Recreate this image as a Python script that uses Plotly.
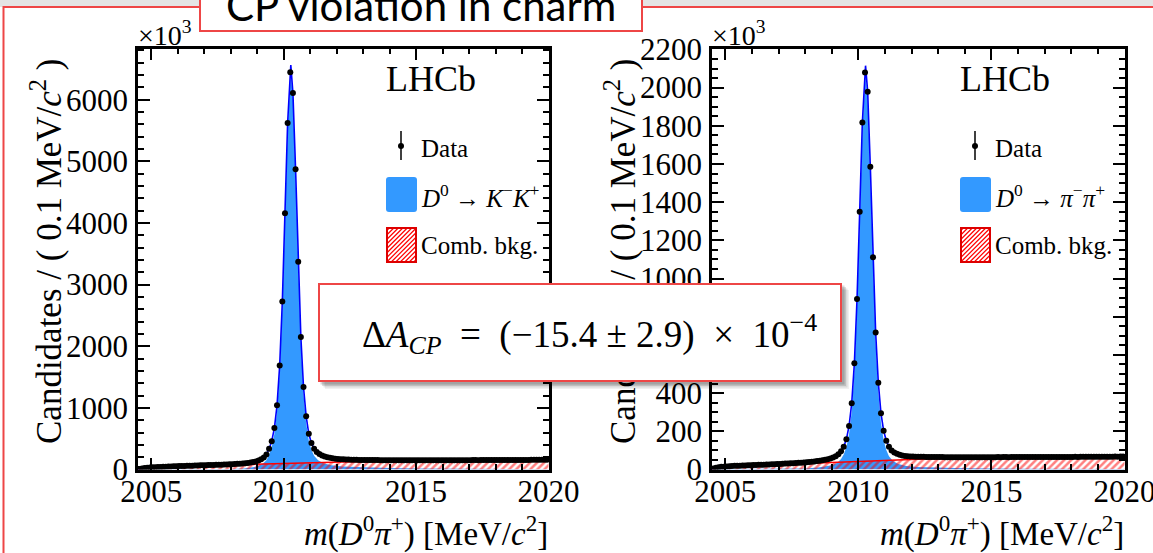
import numpy as np
import plotly.graph_objects as go

W, H = 1153, 553

# ---------------- data (in units of 10^3 candidates) ----------------
bin_centres = np.round(2004.55 + 0.1 * np.arange(155), 2)   # 0.1 MeV/c^2 bins

kk_counts = [10, 18, 24, 28, 32, 35, 38, 40, 42, 44,
             46, 48, 50, 52, 53, 55, 56, 58, 59, 61,
             62, 64, 65, 67, 68, 70, 71, 73, 74, 76,
             78, 79, 81, 83, 85, 87, 89, 92, 95, 98,
             102, 107, 113, 121, 131, 146, 166, 195, 245, 337,
             460, 672, 1041, 1686, 2727, 4158, 5621, 6444, 6109, 4873,
             3371, 2151, 1338, 862, 580, 428, 337, 285, 250, 226,
             210, 198, 189, 182, 176, 172, 168, 165, 163, 161,
             159, 158, 157, 156, 155,
             155, 154, 154, 153, 153, 153, 152, 152, 152, 152,
             151, 151, 151, 151, 150, 150, 151, 150, 150, 150,
             150, 150, 150, 151, 150, 150, 150, 151, 151, 150,
             151, 151, 151, 151, 152, 151, 152, 152, 152, 152,
             152, 153, 153, 152, 153, 153, 153, 154, 153, 154,
             154, 154, 154, 155, 155, 155, 155, 156, 155, 156,
             156, 156, 156, 157, 157, 157, 157, 158, 158, 158]

pipi_counts = [5, 9, 12, 14, 15, 16, 17, 18, 19, 19.5,
               20, 21, 21.5, 22, 22.5, 23, 24, 24.5, 25, 25.5,
               26, 26.5, 27, 28, 28.5, 29, 30, 31, 32, 32.5,
               33, 34, 35, 36, 37, 38, 39, 41, 42, 44,
               46, 48, 51, 54, 58, 63, 70, 80, 95, 119,
               158, 228, 347, 556, 893, 1350, 1817, 2079, 1979, 1586,
               1112, 717, 455, 294, 203, 151, 119, 100, 89, 82,
               77, 73, 71, 69, 68,
               67.5, 67, 67, 66.5, 66.5, 66, 66, 65.5, 65.5, 65,
               65, 65, 64.5, 64.5, 64.5, 64.5, 64.5, 64, 64.5, 64.5,
               64.5, 64, 64.5, 64.5, 64.5, 64, 64.5, 64.5, 64.5, 64.5,
               64.5, 64.5, 65, 64.5, 65, 65, 64.5, 65, 65, 65,
               65, 65, 65, 65.5, 65, 65.5, 65.5, 65.5, 65.5, 65.5,
               65.5, 65.5, 66, 65.5, 66, 66, 66, 66, 66, 66,
               66, 66.5, 66, 66.5, 66.5, 66.5, 66.5, 66.5, 66.5, 67,
               66.5, 67, 67, 67, 67, 67, 67.5, 67, 67.5, 67.5]

# fit components
fit_mass = [2004.45, 2004.6, 2005.0, 2005.5, 2006.0, 2006.5, 2007.0, 2007.5, 2008.0, 2008.5,
            2008.8, 2009.0, 2009.2, 2009.35, 2009.45, 2009.55, 2009.65, 2009.75, 2009.85, 2009.95,
            2010.05, 2010.15, 2010.27, 2010.35, 2010.45, 2010.55, 2010.65, 2010.75, 2010.85, 2010.95,
            2011.05, 2011.15, 2011.3, 2011.5, 2011.8, 2012.2, 2013.0, 2014.0, 2015.0, 2016.0,
            2017.0, 2018.0, 2019.0, 2020.0]

kk_signal = [0, 3, 4, 3, 3, 3, 5, 7, 10, 18,
             31, 49, 88, 151, 241, 363, 574, 942, 1586, 2626,
             4056, 5518, 6456, 6004, 4767, 3264, 2043, 1230, 753, 470,
             317, 225, 149, 103, 68, 47, 32, 23, 17, 13,
             10, 8, 7, 6]
kk_comb = [0, 15, 30, 42, 51, 58, 64, 70, 76, 82,
           86, 89, 92, 94, 96, 97, 98, 99, 100, 101,
           102, 103, 104, 105, 106, 107, 108, 108, 109, 110,
           111, 112, 113, 115, 118, 121, 126, 131, 135, 139,
           142, 145, 147, 150]

pipi_signal = [0, 2, 3, 3, 3, 3, 3, 4, 5.5, 10,
               15, 22, 34.5, 54.5, 78, 116, 185.5, 304, 512.5, 849,
               1305.5, 1772, 2069.5, 1933, 1539.5, 1065, 669.5, 407, 245.5, 154,
               101.5, 69, 44.5, 28.5, 18.5, 13, 9, 6.5, 5, 4,
               3.5, 3, 2.5, 2]
pipi_comb = [0, 6, 12, 17, 20, 23, 26, 29, 32, 35,
             37, 38, 39.5, 40.5, 41, 42, 42.5, 43, 43.5, 44,
             44.5, 45, 45.5, 46, 46.5, 47, 47.5, 48, 48.5, 49,
             49.5, 50, 50.5, 51.5, 52.5, 54, 56, 58, 59.5, 61,
             62, 63, 64, 65]

x_tickvals = [2005, 2010, 2015, 2020]
kk_yticks = [0, 1000, 2000, 3000, 4000, 5000, 6000]
pipi_yticks = [0, 200, 400, 600, 800, 1000, 1200, 1400, 1600, 1800, 2000, 2200]

# ---------------- styling ----------------
SERIF = "Liberation Serif"
RED = "#ee4646"
BLUE_FILL = "#3399ff"
BLUE_LINE = "#0000ff"


def px(x):
    return x / W


def py(y):
    return 1 - y / H


fig = go.Figure()

panels = [
    dict(xa="x", ya="y", data=kk_counts, sig=kk_signal, bkg=kk_comb),
    dict(xa="x2", ya="y2", data=pipi_counts, sig=pipi_signal, bkg=pipi_comb),
]
for p in panels:
    total = [s + b for s, b in zip(p["sig"], p["bkg"])]
    fig.add_trace(go.Scatter(x=fit_mass, y=p["sig"], xaxis=p["xa"], yaxis=p["ya"], mode="lines",
                             line=dict(width=0, color=BLUE_FILL), fill="tozeroy",
                             fillcolor=BLUE_FILL, hoverinfo="skip", showlegend=False))
    fig.add_trace(go.Scatter(x=fit_mass, y=p["bkg"], xaxis=p["xa"], yaxis=p["ya"], mode="lines",
                             line=dict(width=1.5, color="red"), fill="tozeroy",
                             fillcolor="rgba(0,0,0,0)",
                             fillpattern=dict(shape="/", fgcolor="red", bgcolor="rgba(0,0,0,0)",
                                              size=5, solidity=0.5),
                             hoverinfo="skip", showlegend=False))
    fig.add_trace(go.Scatter(x=fit_mass, y=total, xaxis=p["xa"], yaxis=p["ya"], mode="lines",
                             line=dict(width=1.6, color=BLUE_LINE), showlegend=False))
    fig.add_trace(go.Scatter(x=bin_centres, y=p["data"], xaxis=p["xa"], yaxis=p["ya"], mode="markers",
                             marker=dict(size=6, color="black"), showlegend=False))

axis_common = dict(showline=True, linecolor="black", linewidth=2.5, mirror="allticks",
                   ticks="inside", ticklen=12, tickwidth=1.5, tickcolor="black",
                   showgrid=False, zeroline=False, automargin=False, ticklabeloverflow="allow",
                   tickfont=dict(family=SERIF, size=31, color="black"))
xdom1 = [px(138), px(549)]
xdom2 = [px(712), px(1125)]
ydom = [py(469.5), py(48.5)]

fig.update_layout(
    xaxis=dict(domain=xdom1, anchor="y", range=[2004.5, 2020.02], tickvals=x_tickvals,
               minor=dict(dtick=1, tick0=2005, ticks="inside", ticklen=6, tickwidth=1.5, tickcolor="black"),
               ticklabelstandoff=-7, **axis_common),
    yaxis=dict(domain=ydom, anchor="x", range=[0, 6830], tickvals=kk_yticks,
               minor=dict(dtick=200, tick0=0, ticks="inside", ticklen=6, tickwidth=1.5, tickcolor="black"),
               ticklabelstandoff=1, **axis_common),
    xaxis2=dict(domain=xdom2, anchor="y2", range=[2004.5, 2020.02], tickvals=x_tickvals,
                minor=dict(dtick=1, tick0=2005, ticks="inside", ticklen=6, tickwidth=1.5, tickcolor="black"),
                ticklabelstandoff=-7, **axis_common),
    yaxis2=dict(domain=ydom, anchor="x2", range=[0, 2205], tickvals=pipi_yticks,
                minor=dict(dtick=50, tick0=0, ticks="inside", ticklen=6, tickwidth=1.5, tickcolor="black"),
                ticklabelstandoff=1, **axis_common),
)

shapes = []
annotations = []

# slide background
shapes.append(dict(type="rect", xref="paper", yref="paper", x0=0, x1=1, y0=py(7), y1=1.01,
                   fillcolor="#e4e4e4", line=dict(width=0), layer="below"))
shapes.append(dict(type="rect", xref="paper", yref="paper", x0=px(3.5), x1=px(1170), y0=py(570), y1=py(7),
                   fillcolor="rgba(0,0,0,0)", line=dict(color=RED, width=2), layer="below"))
# title box
shapes.append(dict(type="rect", xref="paper", yref="paper", x0=px(200), x1=px(642), y0=py(31), y1=py(-20),
                   fillcolor="white", line=dict(color=RED, width=2), layer="above"))
annotations.append(dict(xref="paper", yref="paper", x=px(421), y=py(5), xanchor="center", yanchor="middle",
                        text="CP violation in charm", showarrow=False,
                        font=dict(family="Lato", size=42, color="black")))


def rrect_path(x0, y0, x1, y1, r):
    pts = [("M", x0 + r, y0), ("L", x1 - r, y0), ("Q", x1, y0, x1, y0 + r), ("L", x1, y1 - r),
           ("Q", x1, y1, x1 - r, y1), ("L", x0 + r, y1), ("Q", x0, y1, x0, y1 - r), ("L", x0, y0 + r),
           ("Q", x0, y0, x0 + r, y0)]
    s = ""
    for p in pts:
        cmd = p[0]
        coords = p[1:]
        s += cmd + " ".join(
            f"{px(coords[i]):.5f},{py(coords[i + 1]):.5f}" for i in range(0, len(coords), 2)) + " "
    return s + "Z"


def hatch_path(x0, y0, x1, y1, step):
    w, h = x1 - x0, y1 - y0
    segs = []
    c = -h + step / 2
    while c < w:
        t0 = max(0.0, -c)
        t1 = min(h, w - c)
        if t1 > t0:
            xa, ya = x0 + c + t0, y1 - t0
            xb, yb = x0 + c + t1, y1 - t1
            segs.append(f"M{px(xa):.5f},{py(ya):.5f} L{px(xb):.5f},{py(yb):.5f}")
        c += step
    return " ".join(segs)


panel_info = [
    dict(dx=0, frame_l=138, frame_r=549, mode_txt="<i>D</i><sup>0</sup> → <i>K</i><sup>−</sup><i>K</i><sup>+</sup>"),
    dict(dx=574, frame_l=712, frame_r=1125, mode_txt="<i>D</i><sup>0</sup> → <i>π</i><sup>−</sup><i>π</i><sup>+</sup>"),
]

for pi in panel_info:
    dx = pi["dx"]
    # axis titles
    annotations.append(dict(xref="paper", yref="paper", x=px(47 + dx), y=py(251), xanchor="center",
                            yanchor="middle", textangle=-90, showarrow=False,
                            text="Candidates / ( 0.1 MeV/<i>c</i><sup>2</sup> )",
                            font=dict(family=SERIF, size=35, color="black")))
    annotations.append(dict(xref="paper", yref="paper", x=px(pi["frame_r"] + 1), y=py(531), xanchor="right",
                            yanchor="middle", showarrow=False,
                            text="<i>m</i>(<i>D</i><sup>0</sup><i>π</i><sup>+</sup>) [MeV/<i>c</i><sup>2</sup>]",
                            font=dict(family=SERIF, size=33, color="black")))
    annotations.append(dict(xref="paper", yref="paper", x=px(pi["frame_l"] - 2), y=py(34), xanchor="left",
                            yanchor="middle", showarrow=False, text="×10<sup>3</sup>",
                            font=dict(family=SERIF, size=28, color="black")))
    annotations.append(dict(xref="paper", yref="paper", x=px(431 + dx), y=py(79), xanchor="center",
                            yanchor="middle", showarrow=False, text="LHCb",
                            font=dict(family=SERIF, size=36, color="black")))
    # legend: data
    shapes.append(dict(type="line", xref="paper", yref="paper", x0=px(401 + dx), x1=px(401 + dx),
                       y0=py(131), y1=py(160), line=dict(color="black", width=1.5), layer="above"))
    shapes.append(dict(type="circle", xref="paper", yref="paper", x0=px(398 + dx), x1=px(404 + dx),
                       y0=py(149), y1=py(143), fillcolor="black", line=dict(width=0), layer="above"))
    annotations.append(dict(xref="paper", yref="paper", x=px(419 + dx), y=py(148), xanchor="left",
                            yanchor="middle", showarrow=False, text="Data",
                            font=dict(family=SERIF, size=25, color="black")))
    # legend: signal
    shapes.append(dict(type="path", xref="paper", yref="paper", path=rrect_path(386 + dx, 177, 417 + dx, 212, 3),
                       fillcolor=BLUE_FILL, line=dict(width=0), layer="above"))
    annotations.append(dict(xref="paper", yref="paper", x=px(419 + dx), y=py(196), xanchor="left",
                            yanchor="middle", showarrow=False, text=pi["mode_txt"],
                            font=dict(family=SERIF, size=25, color="black")))
    # legend: combinatorial background
    shapes.append(dict(type="rect", xref="paper", yref="paper", x0=px(387 + dx), x1=px(416 + dx),
                       y0=py(262), y1=py(228), fillcolor="white", line=dict(width=0), layer="above"))
    shapes.append(dict(type="path", xref="paper", yref="paper", path=hatch_path(387 + dx, 228, 416 + dx, 262, 4.5),
                       line=dict(color="red", width=1.2), layer="above"))
    shapes.append(dict(type="rect", xref="paper", yref="paper", x0=px(387 + dx), x1=px(416 + dx),
                       y0=py(262), y1=py(228), fillcolor="rgba(0,0,0,0)", line=dict(color="#dd0000", width=2),
                       layer="above"))
    annotations.append(dict(xref="paper", yref="paper", x=px(419 + dx), y=py(246), xanchor="left",
                            yanchor="middle", showarrow=False, text="Comb. bkg.",
                            font=dict(family=SERIF, size=25, color="black")))

# result box with shadow
for off, alpha in [(7, 0.06), (5.5, 0.09), (4, 0.12), (2.5, 0.15)]:
    shapes.append(dict(type="rect", xref="paper", yref="paper", x0=px(318 + off), x1=px(842 + off),
                       y0=py(382 + off), y1=py(283 + off), fillcolor=f"rgba(0,0,0,{alpha})",
                       line=dict(width=0), layer="above"))
annotations.append(dict(xref="paper", yref="paper", x=px(580), y=py(332.5), xanchor="center", yanchor="middle",
                        text=" ", showarrow=False, width=520, height=95, bgcolor="white",
                        bordercolor=RED, borderwidth=2, borderpad=0))
annotations.append(dict(xref="paper", yref="paper", x=px(589), y=py(334), xanchor="center", yanchor="middle",
                        showarrow=False,
                        text="Δ<i>A</i><sub><i>CP</i></sub>  =  (−15.4 ± 2.9)  ×  10<sup>−4</sup>",
                        font=dict(family=SERIF, size=37, color="black")))

fig.update_layout(width=W, height=H, margin=dict(l=0, r=0, t=0, b=0, pad=0, autoexpand=False),
                  paper_bgcolor="white", plot_bgcolor="white",
                  shapes=shapes, annotations=annotations, showlegend=False)

fig.write_html("out.html", config={"displayModeBar": False},
               post_script="document.body.style.margin='0px';document.body.style.overflow='hidden';")
